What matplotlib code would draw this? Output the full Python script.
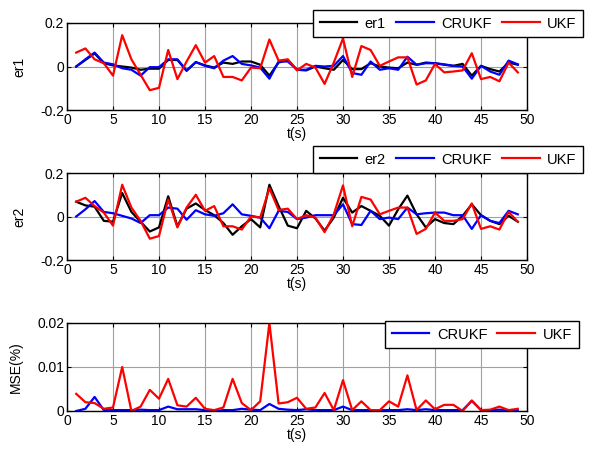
import numpy as np
import matplotlib
matplotlib.use("Agg")
import matplotlib.pyplot as plt

plt.rcParams['font.family'] = ['Liberation Sans', 'DejaVu Sans']
plt.rcParams['font.size'] = 10

t = list(range(1, 50))

er1 = [0, 0.03, 0.06, 0.015, 0.005, 0, -0.005, -0.015, -0.01, -0.01,
       0.03, 0.03, -0.02, 0.02, 0.005, -0.005, 0.018, 0.012, 0.023, 0.023,
       0.008, -0.042, 0.018, 0.03, -0.015, -0.018, 0, -0.008, -0.015, 0.03,
       -0.012, -0.012, 0.015, 0, -0.005, -0.008, 0.018, 0.008, 0.018, 0.015,
       0.008, 0.003, 0.012, -0.042, 0.003, -0.012, -0.023, 0.018, 0.008]
crukf1 = [0, 0.033, 0.064, 0.018, 0.01, -0.008, -0.015, -0.042, -0.003, -0.003,
          0.033, 0.033, -0.018, 0.02, 0.003, -0.008, 0.027, 0.048, 0.012, 0.005,
          -0.005, -0.056, 0.023, 0.023, -0.015, -0.015, 0.003, 0, 0.003, 0.048,
          -0.03, -0.038, 0.023, -0.015, -0.008, -0.015, 0.045, 0.008, 0.015, 0.015,
          0.01, 0.003, 0, -0.056, 0.003, -0.023, -0.038, 0.027, 0.01]
ukf1 = [0.064, 0.083, 0.033, 0.015, -0.042, 0.144, 0.033, -0.038, -0.109, -0.098,
        0.076, -0.058, 0.023, 0.098, 0.018, 0.048, -0.048, -0.048, -0.064, -0.005,
        -0.008, 0.124, 0.027, 0.033, -0.018, 0.012, -0.005, -0.080, 0.018, 0.129,
        -0.048, 0.094, 0.076, 0.003, 0.023, 0.042, 0.042, -0.083, -0.064, 0.012,
        -0.027, -0.023, -0.018, 0.061, -0.058, -0.048, -0.068, 0.018, -0.027]

er2 = [0.068, 0.051, 0.045, -0.02, -0.024, 0.108, 0.021, -0.024, -0.069, -0.05,
       0.093, -0.045, 0.036, 0.06, 0.03, 0.006, -0.03, -0.084, -0.045, -0.012,
       -0.05, 0.146, 0.048, -0.042, -0.054, 0.026, -0.009, -0.065, -0.005, 0.086,
       0.018, 0.048, 0.026, 0.003, -0.042, 0.033, 0.096, 0.01, -0.05, -0.012,
       -0.03, -0.035, 0.003, 0.056, 0.006, -0.02, -0.035, 0.003, -0.024]
crukf2 = [0, 0.033, 0.071, 0.021, 0.015, 0.003, -0.009, -0.03, 0.006, 0.006,
          0.041, 0.036, -0.015, 0.029, 0.01, 0.003, 0.015, 0.056, 0.01, 0.003,
          -0.005, -0.054, 0.026, 0.021, -0.012, -0.005, 0.006, 0.006, 0.006, 0.056,
          -0.035, -0.039, 0.026, -0.012, -0.005, -0.012, 0.041, 0.01, 0.015, 0.018,
          0.018, 0.006, 0.006, -0.057, 0.006, -0.02, -0.03, 0.026, 0.01]
ukf2 = [0.068, 0.086, 0.048, 0.018, -0.042, 0.146, 0.041, -0.02, -0.102, -0.09,
        0.078, -0.05, 0.041, 0.1, 0.026, 0.048, -0.045, -0.045, -0.06, 0,
        -0.005, 0.13, 0.03, 0.036, -0.012, 0.006, -0.005, -0.072, 0.01, 0.143,
        -0.045, 0.09, 0.078, 0.01, 0.026, 0.041, 0.041, -0.08, -0.057, 0.018,
        -0.02, -0.02, -0.012, 0.06, -0.057, -0.045, -0.06, 0.021, -0.024]

mse_crukf = [0, 0.0005, 0.0032, 0.0002, 0.0002, 0.0002, 0.0002, 0.0003, 0.0002, 0.0002,
             0.001, 0.0004, 0.0004, 0.0004, 0.0002, 0, 0.0002, 0.0002, 0.0005, 0.0003,
             0.0002, 0.0016, 0.0005, 0.0003, 0.0002, 0.0004, 0.0002, 0.0002, 0.0002, 0.001,
             0.0002, 0.0002, 0.0002, 0.0002, 0.0002, 0.0002, 0.0004, 0.0002, 0.0004, 0.0002,
             0.0002, 0.0002, 0.0002, 0.0023, 0.0002, 0.0002, 0.0003, 0.0002, 0.0002]
mse_ukf = [0.0039, 0.002, 0.0018, 0.0005, 0.0008, 0.010, 0, 0.001, 0.0048, 0.0028,
           0.0073, 0.0013, 0.001, 0.003, 0.0005, 0.0002, 0.0008, 0.0073, 0.0018, 0.0002,
           0.0022, 0.020, 0.0017, 0.002, 0.003, 0.0005, 0.0008, 0.0041, 0.0002, 0.007,
           0.0002, 0.0022, 0.0002, 0.0002, 0.0022, 0.001, 0.0081, 0.0002, 0.0024, 0.0004,
           0.0014, 0.0014, 0, 0.0024, 0.0002, 0.0003, 0.001, 0.0002, 0.0005]

W, H = 609, 453
fig = plt.figure(figsize=(W / 100, H / 100), dpi=100)

def ax_rect(x0, y0, x1, y1):
    return [x0 / W, 1 - y1 / H, (x1 - x0) / W, (y1 - y0) / H]

def style(ax, ylim, yticks, yticklabels, ylabel):
    ax.set_xlim(0, 50)
    ax.set_ylim(*ylim)
    ax.set_xticks(range(0, 51, 5))
    ax.set_yticks(yticks)
    ax.set_yticklabels(yticklabels)
    ax.grid(True, color='#a0a0a0', linewidth=0.8)
    ax.set_axisbelow(True)
    ax.tick_params(direction='in', top=True, right=True, length=3, width=0.8, pad=2)
    for s in ax.spines.values():
        s.set_linewidth(1.0)
    ax.set_ylabel(ylabel, labelpad=10)
    ax.set_xlabel('t(s)', labelpad=0)

lw = 1.6
XL, XR = 67, 527
ax1 = fig.add_axes(ax_rect(XL, 23, XR, 110))
ax1.plot(t, er1, color='black', lw=lw, label='er1')
ax1.plot(t, crukf1, color='#0000ff', lw=lw, label='CRUKF')
ax1.plot(t, ukf1, color='#ff0000', lw=lw, label='UKF')
style(ax1, (-0.2, 0.2), [-0.2, 0, 0.2], ['-0.2', '0', '0.2'], 'er1')

ax2 = fig.add_axes(ax_rect(XL, 173, XR, 260))
ax2.plot(t, er2, color='black', lw=lw, label='er2')
ax2.plot(t, crukf2, color='#0000ff', lw=lw, label='CRUKF')
ax2.plot(t, ukf2, color='#ff0000', lw=lw, label='UKF')
style(ax2, (-0.2, 0.2), [-0.2, 0, 0.2], ['-0.2', '0', '0.2'], 'er2')

ax3 = fig.add_axes(ax_rect(XL, 323, XR, 411))
ax3.plot(t, mse_crukf, color='#0000ff', lw=lw, label='CRUKF')
ax3.plot(t, mse_ukf, color='#ff0000', lw=lw, label='UKF')
style(ax3, (0, 0.02), [0, 0.01, 0.02], ['0', '0.01', '0.02'], 'MSE(%)')

def legend(ax, x0, y0, ncol):
    leg = ax.legend(loc='upper left', bbox_to_anchor=(x0 / W, 1 - y0 / H),
                    bbox_transform=fig.transFigure, ncol=ncol, frameon=True,
                    fancybox=False, framealpha=1, edgecolor='black',
                    handlelength=2.6, columnspacing=0.7, handletextpad=0.5,
                    borderpad=0.45, borderaxespad=0, fontsize=10.5)
    leg.get_frame().set_linewidth(1.0)
    leg.set_zorder(10)
    return leg

legend(ax1, 313, 10, 3)
legend(ax2, 313, 146, 3)
legend(ax3, 385, 321, 2)

fig.savefig('out.png', dpi=100)
